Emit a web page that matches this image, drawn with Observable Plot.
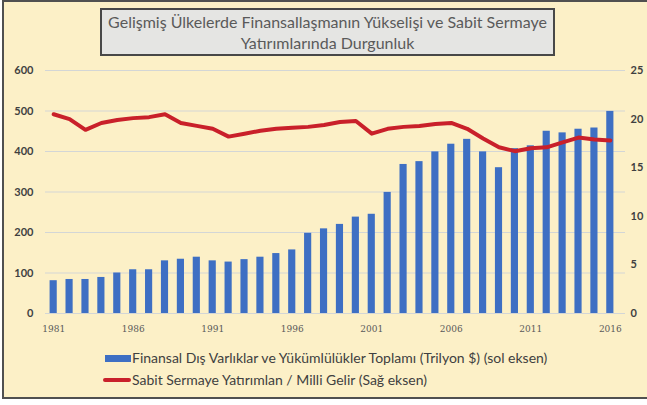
<!DOCTYPE html>
<html><head><meta charset="utf-8">
<script src="https://cdn.jsdelivr.net/npm/d3@7"></script>
<script src="https://cdn.jsdelivr.net/npm/@observablehq/plot@0.6"></script>
<style>
body{margin:0;background:#fff;}
#frame{position:relative;width:647px;height:405px;overflow:hidden;font-family:Lato,"Open Sans",sans-serif;}
#bg{position:absolute;left:2px;top:0;width:700px;height:399px;box-sizing:border-box;background:#FCF0C7;border:2px solid #505050;}
#title{position:absolute;left:100px;top:8px;width:455px;height:48px;box-sizing:border-box;border:2px solid #484848;background:#E5E5E3;text-align:center;color:#5a5a5a;font-size:16px;line-height:21px;padding-top:1px;white-space:nowrap;}
#chart{position:absolute;left:0;top:60px;}
.sw{position:absolute;}
.lt{position:absolute;left:132px;font-size:14px;color:#404040;white-space:nowrap;line-height:16px;}
</style>
</head><body>
<div id="frame">
  <div id="bg"></div>
  <div id="title">Gelişmiş Ülkelerde Finansallaşmanın Yükselişi ve Sabit Sermaye<br>Yatırımlarında Durgunluk</div>
  <div id="chart"></div>
  <div class="sw" style="left:105px;top:355px;width:26px;height:7px;background:#3e6fc3;"></div>
  <div class="lt" style="top:350px;">Finansal Dış Varlıklar ve Yükümlülükler Toplamı (Trilyon $) (sol eksen)</div>
  <div class="sw" style="left:103px;top:378px;width:28px;height:4px;border-radius:2px;background:#c9202a;"></div>
  <div class="lt" style="top:372px;">Sabit Sermaye Yatırımlan / Milli Gelir (Sağ eksen)</div>
</div>
<script>
const years = [1981,1982,1983,1984,1985,1986,1987,1988,1989,1990,1991,1992,1993,1994,1995,1996,1997,1998,
               1999,2000,2001,2002,2003,2004,2005,2006,2007,2008,2009,2010,2011,2012,2013,2014,2015,2016];
const assets = [81,84,84,89,100,108,108,130,134,139,130,127,133,139,148,157,198,209,
                220,238,245,299,368,375,399,418,430,399,360,407,414,450,446,455,458,499];
const ratio = [20.5,20.0,18.9,19.6,19.9,20.1,20.2,20.5,19.6,19.3,19.0,18.2,18.5,18.8,19.0,19.1,19.2,19.4,
               19.7,19.8,18.5,19.0,19.2,19.3,19.5,19.6,19.0,18.0,17.1,16.7,17.0,17.1,17.6,18.1,17.9,17.8];
const xTicks = [1981,1986,1991,1996,2001,2006,2011,2016];
const leftTicks = [0,100,200,300,400,500,600];
const rightTicks = [0,5,10,15,20,25];
const leftMax = 600, rightMax = 25;
const k = leftMax / rightMax;

const data = years.map((y, i) => ({year: y, assets: assets[i], ratio: ratio[i]}));

const chart = Plot.plot({
  width: 647, height: 280,
  marginTop: 10, marginBottom: 27, marginLeft: 48, marginRight: 32,
  style: {background: "transparent", fontFamily: "Lato, 'Open Sans', sans-serif"},
  x: {type: "band", domain: years, paddingInner: 0.55, paddingOuter: 0.1, axis: null},
  y: {domain: [0, leftMax], axis: null},
  marks: [
    Plot.gridY(leftTicks, {stroke: "#d3d6d6", strokeOpacity: 1, strokeWidth: 1.2, insetLeft: -3, insetRight: -10}),
    Plot.barY(data, {x: "year", y: "assets", fill: "#3e6fc3"}),
    Plot.lineY(data, {x: "year", y: d => d.ratio * k, stroke: "#c9202a", strokeWidth: 4, strokeLinejoin: "round", strokeLinecap: "round"}),
    Plot.axisX(xTicks, {label: null, tickSize: 0, tickPadding: 12, fontSize: 9, color: "#5a5a5a", tickFormat: d => String(d), fontFamily: "'DejaVu Serif', serif"}),
    Plot.axisY(leftTicks, {label: null, anchor: "left", tickSize: 0, tickPadding: 15, fontSize: 11, fontWeight: "bold", color: "#404040"}),
    Plot.axisY(rightTicks.map(v => v * k), {label: null, anchor: "right", tickSize: 0, tickPadding: 15, fontSize: 11, fontWeight: "bold", color: "#404040", tickFormat: d => String(Math.round(d / k))})
  ]
});
document.getElementById("chart").appendChild(chart);
</script>
</body></html>
